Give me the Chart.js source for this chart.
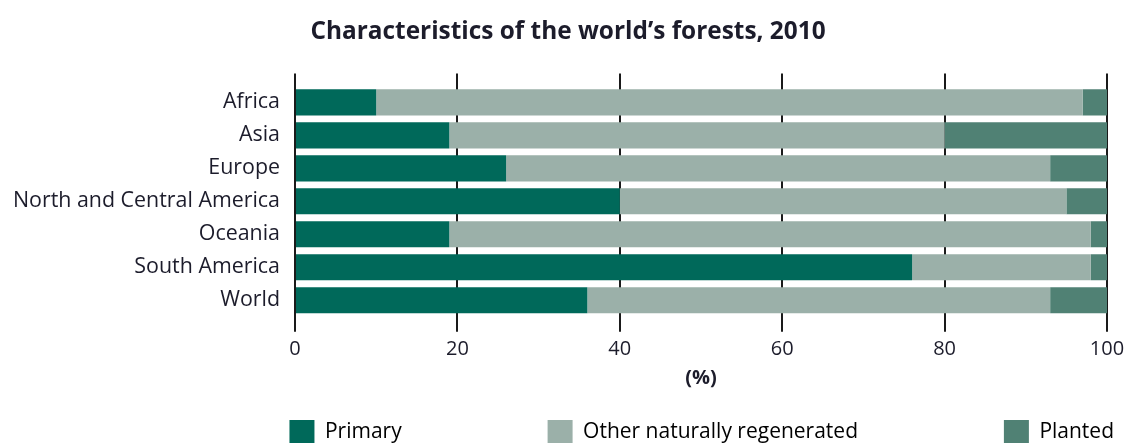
<!DOCTYPE html>
<html>
<head>
<meta charset="utf-8">
<script src="https://cdn.jsdelivr.net/npm/chart.js@4.4.1/dist/chart.umd.min.js"></script>
<style>
  html, body { margin: 0; padding: 0; background: #ffffff; }
  #wrap { width: 1131px; height: 443px; position: relative; }
</style>
</head>
<body>
<div id="wrap"><canvas id="c"></canvas></div>
<script>
// ---- data ----
const categories = ['Africa', 'Asia', 'Europe', 'North and Central America', 'Oceania', 'South America', 'World'];
const primary    = [10, 19, 26, 40, 19, 76, 36];
const otherNat   = [87, 61, 67, 55, 79, 22, 57];
const planted    = [3, 20, 7, 5, 2, 2, 7];
const xTicks     = [0, 20, 40, 60, 80, 100];
const seriesNames = ['Primary', 'Other naturally regenerated', 'Planted'];
const titleText  = 'Characteristics of the world\u2019s forests, 2010';
const axisTitle  = '(%)';

// ---- styles ----
const FONT = 'Open Sans';
const TXT = '#1c1c2b';
const colors = ['#00695a', '#9bb0a9', '#508174'];
const EM = '\u2003';
const legendText = [
  seriesNames[0] + EM.repeat(6) + '  ',
  seriesNames[1] + EM.repeat(6) + '  ',
  seriesNames[2]
];

Chart.defaults.font.family = FONT;
Chart.defaults.color = TXT;

const mk = (i, data) => ({
  label: seriesNames[i],
  data: data,
  backgroundColor: colors[i],
  borderWidth: 0,
  barPercentage: 0.79,
  categoryPercentage: 1.0
});

new Chart(document.getElementById('c'), {
  type: 'bar',
  data: {
    labels: categories,
    datasets: [mk(0, primary), mk(1, otherNat), mk(2, planted)]
  },
  options: {
    indexAxis: 'y',
    responsive: true,
    maintainAspectRatio: false,
    animation: false,
    events: [],
    layout: { padding: { left: 13, right: 8, top: 0, bottom: -11 } },
    plugins: {
      title: {
        display: true,
        text: titleText,
        color: TXT,
        font: { family: FONT, size: 24.4, weight: 'bold' },
        padding: { top: 17, bottom: 27.2 }
      },
      legend: {
        display: true,
        position: 'bottom',
        align: 'end',
        labels: {
          color: TXT,
          font: { family: FONT, size: 21 },
          boxWidth: 25,
          boxHeight: 24,
          padding: 9,
          generateLabels: (chart) => chart.data.datasets.map((ds, i) => ({
            text: legendText[i],
            fillStyle: ds.backgroundColor,
            strokeStyle: ds.backgroundColor,
            lineWidth: 0,
            hidden: false,
            datasetIndex: i
          }))
        }
      },
      tooltip: { enabled: false }
    },
    scales: {
      x: {
        type: 'linear',
        position: 'bottom',
        stacked: true,
        min: 0,
        max: 100,
        afterBuildTicks: (s) => { s.ticks = xTicks.map(v => ({ value: v })); },
        afterFit: (s) => { s.height = 94.2; },
        grid: {
          display: true,
          drawOnChartArea: true,
          drawTicks: true,
          tickLength: 15,
          color: '#1a1a1a',
          lineWidth: 2
        },
        border: { display: false },
        ticks: {
          color: TXT,
          font: { family: FONT, size: 20 },
          padding: 5,
          maxRotation: 0
        },
        title: {
          display: true,
          text: axisTitle,
          color: TXT,
          font: { family: FONT, size: 20, weight: 'bold' },
          padding: { top: 0, bottom: 20.7 }
        }
      },
      xTop: {
        type: 'linear',
        position: 'top',
        min: 0,
        max: 100,
        afterBuildTicks: (s) => { s.ticks = xTicks.map(v => ({ value: v })); },
        afterFit: (s) => { s.height = 12.4; },
        grid: {
          display: true,
          drawOnChartArea: false,
          drawTicks: true,
          tickLength: 12.4,
          color: '#1a1a1a',
          lineWidth: 2
        },
        border: { display: false },
        ticks: { display: false }
      },
      y: {
        type: 'category',
        stacked: true,
        afterFit: (s) => { s.width = 282; },
        grid: { display: false, drawTicks: false },
        border: { display: false },
        ticks: {
          color: TXT,
          font: { family: FONT, size: 21.4 },
          padding: 15
        }
      },
      yRight: {
        type: 'linear',
        position: 'right',
        afterFit: (s) => { s.width = 16; },
        grid: { display: false, drawTicks: false },
        border: { display: false },
        ticks: { display: false }
      }
    }
  }
});
</script>
</body>
</html>
